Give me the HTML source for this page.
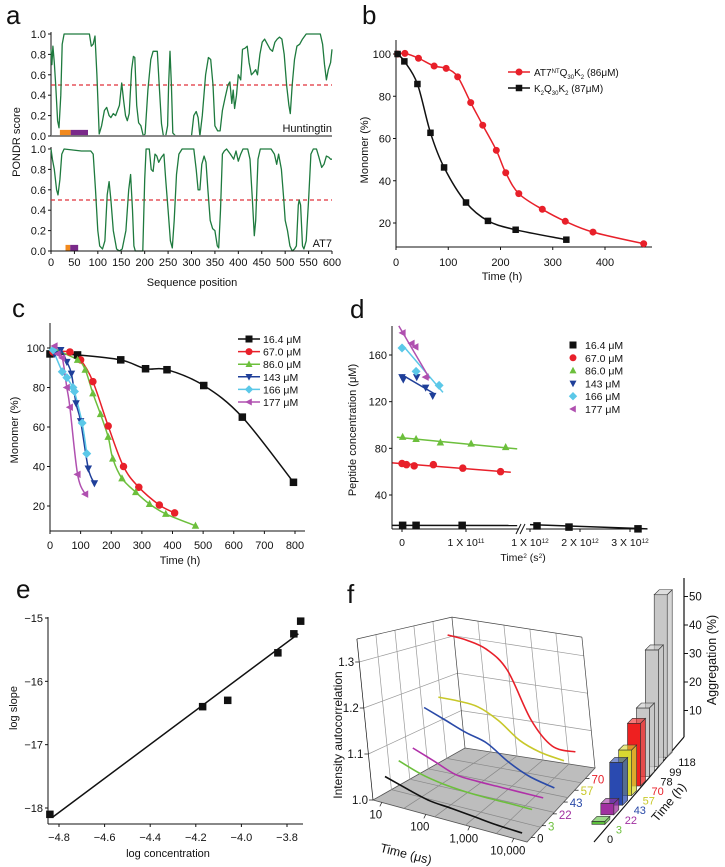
<!DOCTYPE html>
<html><head><meta charset="utf-8">
<style>
html,body{margin:0;padding:0;background:#fff;}
svg{display:block;font-family:"Liberation Sans",Arial,sans-serif;}
</style></head>
<body>
<svg id="fig" width="725" height="867" viewBox="0 0 725 867"></svg>
<script>
// ---------- Panel a data ----------
const huntPos=[0,2,4,7,10,14,17,21,24,28,82,86,90,94,98,103,108,114,119,124,128,133,138,142,146,151,155,159,163,167,172,176,179,183,187,192,197,201,207,213,218,227,231,236,240,245,249,251,254,257,260,266,300,305,310,314,318,323,330,336,341,346,350,356,361,366,372,378,382,386,389,392,396,400,405,409,414,419,423,428,432,437,441,446,451,456,462,468,473,478,483,488,493,498,503,508,511,515,520,525,531,537,545,575,580,584,588,592,597,600];
const huntVal=[0.85,0.7,0.88,0.72,0.5,0.15,0.08,0.4,0.9,1.0,1.0,0.88,0.9,0.98,0.6,0.02,0.1,0.25,0.28,0.2,0.18,0.22,0.2,0.25,0.3,0.52,0.35,0.2,0.15,0.22,0.65,0.78,0.77,0.3,0.13,0.1,0.0,0.02,0.45,0.75,0.83,0.83,0.5,0.12,0.0,0.0,0.1,0.5,0.83,0.5,0.03,0.0,0.0,0.2,0.24,0.18,0.0,0.2,0.6,0.77,0.75,0.5,0.1,0.05,0.05,0.25,0.38,0.5,0.53,0.32,0.45,0.27,0.4,0.6,0.55,0.85,0.86,0.88,0.72,0.6,0.62,0.65,0.6,0.8,0.92,0.95,0.9,0.85,0.83,0.92,0.95,0.97,0.95,0.8,0.5,0.3,0.22,0.5,0.75,0.88,0.9,0.95,1.0,1.0,0.9,0.7,0.55,0.65,0.72,0.85];
const at7Pos=[0,3,7,12,15,19,23,28,65,85,90,95,100,104,110,115,120,124,128,133,140,146,152,160,166,170,174,177,180,190,196,200,203,210,214,218,222,226,230,236,241,245,250,255,259,263,268,273,280,305,310,314,318,322,327,331,335,340,345,350,355,358,362,366,370,375,383,390,395,400,405,410,420,425,430,434,437,442,447,470,477,482,486,492,497,500,505,510,515,520,524,528,530,533,537,540,545,550,555,560,567,572,578,583,588,593,597,600];
const at7Val=[1.0,0.9,0.8,0.6,0.55,0.7,0.95,1.0,0.98,0.98,0.95,0.6,0.2,0.05,0.02,0.1,0.55,0.68,0.5,0.2,0.02,0.0,0.02,0.2,0.6,0.75,0.4,0.05,0.0,0.0,0.0,0.7,1.0,1.0,0.8,0.78,0.95,0.93,0.87,0.92,0.95,0.7,0.4,0.1,0.03,0.3,0.75,0.95,1.0,1.0,0.8,0.6,0.6,0.85,0.93,0.87,0.6,0.3,0.22,0.2,0.05,0.03,0.4,0.95,0.98,1.0,0.95,0.9,0.98,0.88,0.95,1.0,1.0,0.9,0.5,0.15,0.3,0.9,1.0,1.0,0.95,0.85,0.95,0.8,0.5,0.3,0.2,0.05,0.0,0.02,0.05,0.45,0.5,0.45,0.05,0.02,0.1,0.5,0.95,1.0,1.0,0.92,0.82,0.85,0.93,0.92,0.9,0.9];
const huntDomStart=[19,42];
const huntDomEnd=[42,79];
const at7DomStart=[31,41];
const at7DomEnd=[41,58];
const domColors=['#f28a1e','#7a2a8a'];
const aXTicks=[0,50,100,150,200,250,300,350,400,450,500,550,600];
const aYTicks=[0,0.2,0.4,0.6,0.8,1.0];

// ---------- Panel b data ----------
const bRedT=[3,17,43,73,96,118,143,166,192,210,235,280,324,377,474];
const bRedV=[100,100.3,98,94.3,93.2,89.2,77,66.3,54.4,43.8,33.9,26.5,20.8,15.7,10.2];
const bBlkT=[3,16,41,66,92,134,176,229,326];
const bBlkV=[100,96.5,85.8,62.7,46.3,29.7,21,16.8,12.1];
const bXTicks=[0,100,200,300,400];
const bYTicks=[20,40,60,80,100];

// ---------- Panel c data ----------
const cLabels=['16.4 \u03bcM','67.0 \u03bcM','86.0 \u03bcM','143 \u03bcM','166 \u03bcM','177 \u03bcM'];
const cT0=[0,90,231,312,382,502,628,795];
const cV0=[97,96.5,94,89.5,89,81,65,32];
const cT1=[10,65,100,140,190,240,290,357,407];
const cV1=[98,98,94,83,60.5,40,29.5,20.5,16.5];
const cT2=[20,90,115,140,165,190,205,235,280,325,378,475];
const cV2=[99,94,89,77,66.5,55,44,34,27,21,16,10];
const cT3=[15,35,55,70,85,100,125,145];
const cV3=[97,99,93,87,72,63,39,31.5];
const cT4=[10,40,55,75,80,105,120];
const cV4=[99,88,85,80,78,62,46.5];
const cT5=[15,25,40,55,65,90,115];
const cV5=[101,97,95,80,70,36,26];
const cXTicks=[0,100,200,300,400,500,600,700,800];
const cYTicks=[20,40,60,80,100];

// ---------- Panel d data (time^2 in units of 1e11 s^2) ----------
const dT0=[0.01,0.22,0.94,11.4,17.8,31.6];
const dV0=[14,14,14,13.5,12.5,11];
const dT1=[0,0.07,0.19,0.49,0.95,1.54];
const dV1=[67,66,65,66,63,60];
const dT2=[0.01,0.22,0.6,1.08,1.62];
const dV2=[89.8,88,85,84,81];
const dT3=[0,0.02,0.23,0.37,0.48];
const dV3=[141,139,141,132,125];
const dT4=[0,0.22,0.58];
const dV4=[166,146,134];
const dT5=[0.01,0.15,0.21,0.37];
const dV5=[179,170,167,141];
const dFitT0=[-0.15,-0.15,-0.08,0,0,-0.05];
const dFitT1=[33.5,1.7,1.8,0.5,0.64,0.43];
const dFitV0=[14,67.5,89.5,143,169,185];
const dFitV1=[11,59.5,79.5,127,128,140];
const dYTicks=[40,80,120,160];

// ---------- Panel e data ----------
const eLogConc=[-4.84,-4.17,-4.06,-3.84,-3.77,-3.74];
const eLogSlope=[-18.1,-16.4,-16.3,-15.55,-15.25,-15.05];
const eFitX=[-4.83,-3.75];
const eFitY=[-18.15,-15.25];
const eXTicks=[-4.8,-4.6,-4.4,-4.2,-4.0,-3.8];
const eYTicks=[-15,-16,-17,-18];

// ---------- Panel f data ----------
const fLogT=[1.0,1.5,2.0,2.5,3.0,3.5,4.1];
const fSampleLabels=['0','3','22','43','57','70'];
const fCurve0=[1.05,1.035,1.022,1.018,1.013,1.008,1.005];
const fCurve1=[1.068,1.05,1.04,1.035,1.033,1.033,1.032];
const fCurve2=[1.08,1.06,1.04,1.036,1.035,1.034,1.033];
const fCurve3=[1.16,1.14,1.12,1.105,1.07,1.045,1.03];
const fCurve4=[1.17,1.17,1.165,1.14,1.1,1.08,1.07];
const fCurve5=[1.315,1.31,1.295,1.25,1.13,1.07,1.065];
const fYTicks=[1.0,1.1,1.2,1.3];
const fXTicks=[1,2,3,4];
const fXTickLabels=['10','100','1,000','10,000'];
const aggTimes=['0','3','22','43','57','70','78','99','118'];
const aggValues=[0,1,4,15,16,22,24,41,57];
const aggYTicks=[10,20,30,40,50];

// ---------- helpers ----------
const NS='http://www.w3.org/2000/svg';
const svg=document.getElementById('fig');
function mk(tag,attrs,name,parent){
  const el=document.createElementNS(NS,tag);
  for(const k in attrs) el.setAttribute(k,attrs[k]);
  
  
  (parent||svg).appendChild(el);
  return el;
}
function txt(x,y,s,name,o){
  o=o||{};
  const el=mk('text',{x:x,y:y,'font-size':o.size||11,'text-anchor':o.anchor||'start',fill:o.fill||'#111'},name);
  if(o.rot!==undefined) el.setAttribute('transform','rotate('+o.rot+' '+x+' '+y+')');
  if(o.style) el.setAttribute('font-style',o.style);
  el.textContent=s;
  return el;
}
function lin(d0,d1,r0,r1){return v=>r0+(v-d0)*(r1-r0)/(d1-d0);}
function line(x1,y1,x2,y2,name,stroke,w,dash){
  const a={x1:x1,y1:y1,x2:x2,y2:y2,stroke:stroke||'#111','stroke-width':w||1};
  if(dash) a['stroke-dasharray']=dash;
  return mk('line',a,name);
}
function smoothPath(pts){
  if(pts.length<3) return 'M'+pts.map(p=>p[0].toFixed(1)+','+p[1].toFixed(1)).join('L');
  let d='M'+pts[0][0].toFixed(1)+','+pts[0][1].toFixed(1);
  for(let i=0;i<pts.length-1;i++){
    const p0=pts[Math.max(0,i-1)],p1=pts[i],p2=pts[i+1],p3=pts[Math.min(pts.length-1,i+2)];
    const c1=[p1[0]+(p2[0]-p0[0])/6,p1[1]+(p2[1]-p0[1])/6];
    const c2=[p2[0]-(p3[0]-p1[0])/6,p2[1]-(p3[1]-p1[1])/6];
    d+='C'+c1[0].toFixed(1)+','+c1[1].toFixed(1)+' '+c2[0].toFixed(1)+','+c2[1].toFixed(1)+' '+p2[0].toFixed(1)+','+p2[1].toFixed(1);
  }
  return d;
}
function marker(type,x,y,s,color,name){
  const h=s/2;let pts;
  if(type==='sq') return mk('rect',{x:x-h,y:y-h,width:s,height:s,fill:color},name);
  if(type==='ci') return mk('circle',{cx:x,cy:y,r:h,fill:color},name);
  if(type==='tu') pts=[[x,y-h*1.1],[x+h,y+h*0.8],[x-h,y+h*0.8]];
  if(type==='td') pts=[[x,y+h*1.1],[x+h,y-h*0.8],[x-h,y-h*0.8]];
  if(type==='di') pts=[[x,y-h*1.2],[x+h*1.2,y],[x,y+h*1.2],[x-h*1.2,y]];
  if(type==='tl') pts=[[x-h*1.1,y],[x+h*0.8,y-h],[x+h*0.8,y+h]];
  return mk('polygon',{points:pts.map(p=>p.join(',')).join(' '),fill:color},name);
}
function yAxis(x,y0,y1,ticks,sc,fmt,name,lx){
  line(x,y0,x,y1,name+'-line');
  ticks.forEach(t=>{
    const y=sc(t);
    line(x-3,y,x,y,name+'-tick');
    txt(lx!==undefined?lx:x-5,y+4,fmt(t),name+'-tick-label',{anchor:'end'});
  });
}
function xAxis(y,x0,x1,ticks,sc,fmt,name,ly){
  line(x0,y,x1,y,name+'-line');
  ticks.forEach(t=>{
    const x=sc(t);
    line(x,y,x,y+3,name+'-tick');
    txt(x,ly,fmt(t),name+'-tick-label',{anchor:'middle'});
  });
}
const minus=v=>String(v).replace('-','\u2212');

// ================= Panel a =================
txt(6,24,'a','panel-label-a',{size:26});
const xA=lin(0,600,51,332);
const yA1=lin(0,1,136,34);
const yA2=lin(0,1,251,149);
[[yA1,huntPos,huntVal,'huntingtin'],[yA2,at7Pos,at7Val,'at7']].forEach(([ys,pos,val,nm],k)=>{
  yAxis(51,ys(1)-2,ys(0),aYTicks,ys,v=>v.toFixed(1),'a-'+nm+'-y-axis',46);
  line(51,ys(0.5),332,ys(0.5),'a-'+nm+'-threshold-line','#e0303a',1.2,'4,3');
  const ds=k===0?huntDomStart:at7DomStart, de=k===0?huntDomEnd:at7DomEnd;
  ds.forEach((s,i)=>{
    mk('rect',{x:xA(s),y:ys(0.06),width:xA(de[i])-xA(s),height:ys(0)-ys(0.06),fill:domColors[i]},'a-'+nm+'-domain-bar');
  });
  const pts=pos.map((p,i)=>[xA(p),ys(val[i])]);
  mk('polyline',{points:pts.map(p=>p[0].toFixed(1)+','+p[1].toFixed(1)).join(' '),fill:'none',stroke:'#1e7a3e','stroke-width':1.3,'stroke-linejoin':'round'},'a-'+nm+'-pondr-line');
});
line(51,136,332,136,'a-top-x-axis','#777',1.8);
xAxis(251,51,332,aXTicks,xA,v=>String(v),'a-x-axis',266);
txt(332,132,'Huntingtin','a-huntingtin-label',{anchor:'end'});
txt(332,247,'AT7','a-at7-label',{anchor:'end'});
txt(192,286,'Sequence position','a-x-axis-title',{anchor:'middle'});
txt(20,142,'PONDR score','a-y-axis-title',{anchor:'middle',rot:-90});

// ================= Panel b =================
txt(362,24,'b','panel-label-b',{size:26});
const xB=lin(0,400,396,605);
const yB=lin(20,100,223,54);
yAxis(396,40,247,bYTicks,yB,v=>String(v),'b-y-axis');
xAxis(247,396,652,bXTicks,xB,v=>String(v),'b-x-axis',266);
txt(502,280,'Time (h)','b-x-axis-title',{anchor:'middle'});
txt(368,150,'Monomer (%)','b-y-axis-title',{anchor:'middle',rot:-90});
mk('path',{d:smoothPath(bRedT.map((t,i)=>[xB(t),yB(bRedV[i])])),fill:'none',stroke:'#e8202a','stroke-width':1.5},'b-at7-curve');
mk('path',{d:smoothPath(bBlkT.map((t,i)=>[xB(t),yB(bBlkV[i])])),fill:'none',stroke:'#111','stroke-width':1.5},'b-k2q30k2-curve');
bRedT.forEach((t,i)=>marker('ci',xB(t),yB(bRedV[i]),7,'#e8202a','b-at7-point'));
bBlkT.forEach((t,i)=>marker('sq',xB(t),yB(bBlkV[i]),6.5,'#111','b-k2q30k2-point'));
line(508,72,530,72,'b-legend-line-at7','#e8202a',1.5);
marker('ci',519,72,7,'#e8202a','b-legend-marker-at7');
line(508,88,530,88,'b-legend-line-k2','#111',1.5);
marker('sq',519,88,6.5,'#111','b-legend-marker-k2');
(function(){
  const t1=txt(534,76,'AT7','b-legend-label-at7',{size:10});
  const s1=mk('tspan',{'baseline-shift':'super','font-size':6},'b-legend-sup',t1);s1.textContent='NT';
  const q=mk('tspan',{},'b-legend-q',t1);q.textContent='Q';
  const s2=mk('tspan',{'baseline-shift':'sub','font-size':6},'b-legend-sub',t1);s2.textContent='30';
  const k=mk('tspan',{},'b-legend-k',t1);k.textContent='K';
  const s3=mk('tspan',{'baseline-shift':'sub','font-size':6},'b-legend-sub',t1);s3.textContent='2';
  const r=mk('tspan',{},'b-legend-rest',t1);r.textContent=' (86\u03bcM)';
  const t2=txt(534,92,'K','b-legend-label-k2',{size:10});
  const a=mk('tspan',{'baseline-shift':'sub','font-size':6},'b-legend-sub',t2);a.textContent='2';
  const b=mk('tspan',{},'b-legend-q',t2);b.textContent='Q';
  const c=mk('tspan',{'baseline-shift':'sub','font-size':6},'b-legend-sub',t2);c.textContent='30';
  const d=mk('tspan',{},'b-legend-k',t2);d.textContent='K';
  const e=mk('tspan',{'baseline-shift':'sub','font-size':6},'b-legend-sub',t2);e.textContent='2';
  const f=mk('tspan',{},'b-legend-rest',t2);f.textContent=' (87\u03bcM)';
})();

// ================= Panel c =================
txt(12,317,'c','panel-label-c',{size:26});
const xC=lin(0,800,50,295);
const yC=lin(20,100,506,348);
yAxis(50,323,531,cYTicks,yC,v=>String(v),'c-y-axis');
xAxis(531,50,305,cXTicks,xC,v=>String(v),'c-x-axis',549);
txt(180,564,'Time (h)','c-x-axis-title',{anchor:'middle'});
txt(18,430,'Monomer (%)','c-y-axis-title',{anchor:'middle',rot:-90});
const seriesColors=['#111','#e8202a','#6cbf3c','#1f3f99','#5bc8e8','#b050b0'];
const seriesMarkers=['sq','ci','tu','td','di','tl'];
const cTs=[cT0,cT1,cT2,cT3,cT4,cT5], cVs=[cV0,cV1,cV2,cV3,cV4,cV5];
cTs.forEach((ts,s)=>{
  mk('path',{d:smoothPath(ts.map((t,i)=>[xC(t),yC(cVs[s][i])])),fill:'none',stroke:seriesColors[s],'stroke-width':1.5},'c-series-curve');
});
cTs.forEach((ts,s)=>{
  ts.forEach((t,i)=>marker(seriesMarkers[s],xC(t),yC(cVs[s][i]),7.5,seriesColors[s],'c-series-point'));
});
cLabels.forEach((l,i)=>{
  const y=339+i*12.6;
  line(238,y,260,y,'c-legend-line',seriesColors[i],1.5);
  marker(seriesMarkers[i],249,y,7,seriesColors[i],'c-legend-marker');
  txt(263,y+4,l,'c-legend-label',{size:10.5});
});

// ================= Panel d =================
txt(350,318,'d','panel-label-d',{size:26});
const xD=v=>v<5?402+v*64:530+(v-10)*5;
const yD=lin(40,160,495,355);
yAxis(392,326,529,dYTicks,yD,v=>String(v),'d-y-axis');
line(392,529,519,529,'d-x-axis-left-line');
line(526,529,647,529,'d-x-axis-right-line');
line(516,534,521,524,'d-axis-break-mark');
line(520,534,525,524,'d-axis-break-mark');
[[0,'0'],[1,'1 X 10'],[10,'1 X 10'],[20,'2 X 10'],[30,'3 X 10']].forEach(([v,l],i)=>{
  const x=xD(v);
  line(x,529,x,532,'d-x-tick');
  const t=txt(x,546,l,'d-x-tick-label',{anchor:'middle',size:10.5});
  if(i>0){const sp=mk('tspan',{'baseline-shift':'super','font-size':6.5},'d-x-tick-exponent',t);sp.textContent=i===1?'11':'12';}
});
(function(){
  const t=txt(523,561,'Time','d-x-axis-title',{anchor:'middle',size:10.5});
  const a=mk('tspan',{'baseline-shift':'super','font-size':6.5},'d-x-title-sup',t);a.textContent='2';
  const b=mk('tspan',{},'d-x-title-rest',t);b.textContent=' (s';
  const c=mk('tspan',{'baseline-shift':'super','font-size':6.5},'d-x-title-sup',t);c.textContent='2';
  const d=mk('tspan',{},'d-x-title-rest',t);d.textContent=')';
})();
txt(356,430,'Peptide concentration (\u03bcM)','d-y-axis-title',{anchor:'middle',rot:-90});
const dTs=[dT0,dT1,dT2,dT3,dT4,dT5], dVs=[dV0,dV1,dV2,dV3,dV4,dV5];
dFitT0.forEach((t0,s)=>{
  const t1=dFitT1[s];
  if(t1>5){
    const vb=dFitV0[s]+(dFitV1[s]-dFitV0[s])*(1.8-t0)/(t1-t0);
    const vc=dFitV0[s]+(dFitV1[s]-dFitV0[s])*(10-t0)/(t1-t0)+1.5;
    line(xD(t0),yD(dFitV0[s]),xD(1.8),yD(vb),'d-fit-line-left',seriesColors[s],1.5);
    line(xD(10),yD(vc),xD(t1),yD(dFitV1[s]),'d-fit-line-right',seriesColors[s],1.5);
  } else {
    line(xD(t0),yD(dFitV0[s]),xD(t1),yD(dFitV1[s]),'d-fit-line',seriesColors[s],1.5);
  }
});
dTs.forEach((ts,s)=>ts.forEach((t,i)=>marker(seriesMarkers[s],xD(t),yD(dVs[s][i]),7.5,seriesColors[s],'d-series-point')));
cLabels.forEach((l,i)=>{
  const y=345+i*12.8;
  marker(seriesMarkers[i],573,y,7,seriesColors[i],'d-legend-marker');
  txt(585,y+4,l,'d-legend-label',{size:10.5});
});

// ================= Panel e =================
txt(16,598,'e','panel-label-e',{size:26});
const xE=lin(-4.8,-3.8,59,287);
const yE=lin(-15,-18,618,808);
yAxis(48,617,824,eYTicks,yE,v=>minus(v),'e-y-axis');
xAxis(824,48,303,eXTicks,xE,v=>minus(v.toFixed(1)),'e-x-axis',841);
txt(168,857,'log concentration','e-x-axis-title',{anchor:'middle'});
txt(17,708,'log slope','e-y-axis-title',{anchor:'middle',rot:-90});
line(xE(eFitX[0]),yE(eFitY[0]),xE(eFitX[1]),yE(eFitY[1]),'e-fit-line','#111',1.5);
eLogConc.forEach((c,i)=>marker('sq',xE(c),yE(eLogSlope[i]),7.5,'#111','e-data-point'));

// ================= Panel f =================
txt(347,603,'f','panel-label-f',{size:26});
const F0=[373,800],B0=[465,748],B1=[595,768],F1=[527,842];
const L=(a,b,t)=>[a[0]+(b[0]-a[0])*t,a[1]+(b[1]-a[1])*t];
const fOf=lt=>(lt-0.8)/3.5;
const dOf=i=>0.06+i*0.16;
function proj(f,d,w){
  const p=L(L(F0,F1,f),L(B0,B1,f),d);
  const h=(w-1)*(460-86*d);
  return [p[0]-0.1*h,p[1]-h];
}
const WT=1.35;
mk('polygon',{points:[proj(0,0,1),proj(0,1,1),proj(1,1,1),proj(1,0,1)].map(p=>p.join(',')).join(' '),fill:'#bdbdbd',stroke:'#555','stroke-width':0.8},'f-floor');
const grid=(a,b,name,c)=>mk('line',{x1:a[0],y1:a[1],x2:b[0],y2:b[1],stroke:c||'#999','stroke-width':0.7},name);
[0.2,0.4,0.6,0.8].forEach(t=>{grid(proj(t,0,1),proj(t,1,1),'f-floor-grid','#888');grid(proj(0,t,1),proj(1,t,1),'f-floor-grid','#888');});
[0.2,0.4,0.6,0.8].forEach(t=>grid(proj(0,t,1),proj(0,t,WT),'f-left-wall-grid'));
[1.1,1.2,1.3].forEach(w=>grid(proj(0,0,w),proj(0,1,w),'f-left-wall-grid'));
grid(proj(0,0,WT),proj(0,1,WT),'f-left-wall-edge','#444');
[0.2,0.4,0.6,0.8].forEach(t=>grid(proj(t,1,1),proj(t,1,WT),'f-back-wall-grid'));
[1.1,1.2,1.3].forEach(w=>grid(proj(0,1,w),proj(1,1,w),'f-back-wall-grid'));
grid(proj(0,1,WT),proj(1,1,WT),'f-back-wall-edge','#444');
grid(proj(1,1,1),proj(1,1,WT),'f-back-wall-edge','#444');
grid(proj(0,1,1),proj(0,1,WT),'f-corner-edge','#444');
grid(proj(0,0,1),proj(0,0,WT),'f-y-axis-line','#111');
fYTicks.forEach(w=>{const p=proj(0,0,w);grid([p[0]-4,p[1]],p,'f-y-tick','#111');txt(p[0]-5,p[1]+4,w.toFixed(1),'f-y-tick-label',{anchor:'end',size:11.5});});
fXTicks.forEach((lt,i)=>{const p=proj(fOf(lt),0,1);grid(p,[p[0]-2,p[1]+4],'f-x-tick','#111');txt(p[0]-6,p[1]+16,fXTickLabels[i],'f-x-tick-label',{anchor:'middle',size:11.5});});
txt(405,858,'Time (\u03bcs)','f-x-axis-title',{anchor:'middle',size:12.5,rot:14});
txt(342,735,'Intensity autocorrelation','f-y-axis-title',{anchor:'middle',size:12,rot:-90});
const fColors=['#111','#6cbf3c','#b030a8','#2a4aa8','#c8c82a','#e8202a'];
const fLabelColors=['#111','#6cbf3c','#a030a0','#2a4aa8','#c8c82a','#e8202a'];
[fCurve0,fCurve1,fCurve2,fCurve3,fCurve4,fCurve5].forEach((cv,s)=>{
  const pts=fLogT.map((lt,i)=>proj(fOf(lt),dOf(s),cv[i]));
  mk('path',{d:smoothPath(pts),fill:'none',stroke:fColors[s],'stroke-width':1.6},'f-autocorrelation-curve');
});
fSampleLabels.forEach((l,i)=>{
  const p=proj(1,dOf(i),1);
  grid(p,[p[0]+4,p[1]],'f-depth-tick','#111');
  txt(p[0]+6,p[1]+5,l,'f-depth-label',{size:11.5,fill:fLabelColors[i]});
});
// bar chart
const A0=[594,842],A1=[684,737];
mk('line',{x1:A0[0],y1:A0[1],x2:A1[0],y2:A1[1],stroke:'#111','stroke-width':1.2},'f-agg-time-axis');
mk('line',{x1:684,y1:737,x2:684,y2:578,stroke:'#111','stroke-width':1.2},'f-agg-y-axis');
const ya=v=>739-v*2.85;
aggYTicks.forEach(v=>{line(684,ya(v),688,ya(v),'f-agg-y-tick');txt(689,ya(v)+4,String(v),'f-agg-y-tick-label',{size:11.5});});
txt(716,660,'Aggregation (%)','f-agg-y-axis-title',{anchor:'middle',size:12.5,rot:-90});
txt(672,805,'Time (h)','f-agg-x-axis-title',{anchor:'middle',size:12.5,rot:-50});
const barColors=['none','#5cbf3c','#a030a0','#2a4ab0','#d8d830','#ee2020','#c8c8c8','#c8c8c8','#c8c8c8'];
const barLabelColors=['#111','#6cbf3c','#a030a0','#2a4aa8','#c8c82a','#e8202a','#111','#111','#111'];
const barBase=i=>[591+i*8.9,834-i*9.6];
aggTimes.map((t,i)=>i).reverse().forEach(i=>{
  if(aggValues[i]<=0) return;
  const p=barBase(i);
  const bx=p[0]-8, by=p[1], w=13, h=Math.max(aggValues[i]*2.85,3);
  const c=barColors[i];
  mk('polygon',{points:[[bx+w,by],[bx+w+5,by-5],[bx+w+5,by-5-h],[bx+w,by-h]].map(q=>q.join(',')).join(' '),fill:c,stroke:'#333','stroke-width':0.6,'fill-opacity':0.75},'f-agg-bar-side');
  mk('rect',{x:bx,y:by-h,width:w,height:h,fill:c,stroke:'#333','stroke-width':0.6},'f-agg-bar-front');
  mk('polygon',{points:[[bx,by-h],[bx+5,by-h-5],[bx+w+5,by-h-5],[bx+w,by-h]].map(q=>q.join(',')).join(' '),fill:c,stroke:'#333','stroke-width':0.6,'fill-opacity':0.6},'f-agg-bar-top');
});
aggTimes.forEach((t,i)=>{
  const p=barBase(i);
  txt(p[0]+16,p[1]+9,t,'f-agg-time-label',{size:11,fill:barLabelColors[i]});
});
</script>
</body></html>
